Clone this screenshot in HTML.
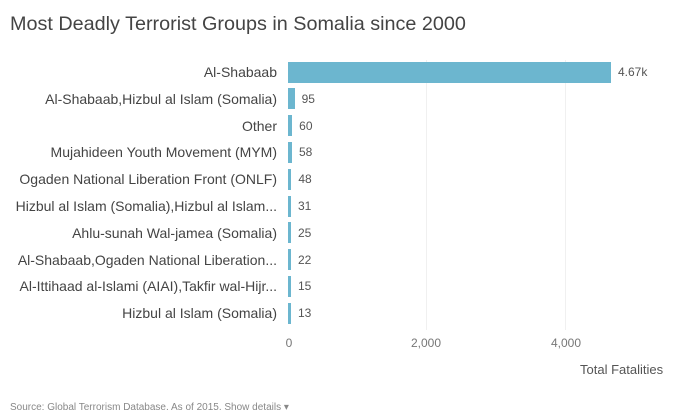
<!DOCTYPE html>
<html><head><style>
body{margin:0;background:#fff;font-family:"Liberation Sans",sans-serif;}
.c{position:relative;width:690px;height:414px;overflow:hidden;}
.t{position:absolute;left:10px;top:13px;font-size:19.8px;color:#444;}
.l{position:absolute;right:413px;font-size:14px;color:#444;text-align:right;white-space:nowrap;}
.b{position:absolute;left:288px;height:21px;background:#6cb6cf;}
.v{position:absolute;font-size:12px;color:#555;}
.g{position:absolute;top:60px;height:270px;width:1px;background:#f0f0f0;}
.x{position:absolute;top:336px;font-size:12px;color:#777;transform:translateX(-50%);}
</style></head><body><div class="c">
<div class="t">Most Deadly Terrorist Groups in Somalia since 2000</div>
<div class="g" style="left:426px"></div><div class="g" style="left:565px"></div>
<div id="rows"></div>
<div class="x" style="left:289px">0</div>
<div class="x" style="left:426px">2,000</div>
<div class="x" style="left:566px">4,000</div>
<div style="position:absolute;left:580px;top:362px;font-size:13px;color:#555">Total Fatalities</div>
<div style="position:absolute;left:10px;top:402px;font-size:10px;color:#888">Source: Global Terrorism Database. As of 2015. Show details ▾</div>
<script>
var d=[["Al-Shabaab",4670,"4.67k"],["Al-Shabaab,Hizbul al Islam (Somalia)",95,"95"],["Other",60,"60"],["Mujahideen Youth Movement (MYM)",58,"58"],["Ogaden National Liberation Front (ONLF)",48,"48"],["Hizbul al Islam (Somalia),Hizbul al Islam...",31,"31"],["Ahlu-sunah Wal-jamea (Somalia)",25,"25"],["Al-Shabaab,Ogaden National Liberation...",22,"22"],["Al-Ittihaad al-Islami (AIAI),Takfir wal-Hijr...",15,"15"],["Hizbul al Islam (Somalia)",13,"13"]];
var h="";
d.forEach(function(r,i){var cy=72+i*26.8;var w=Math.max(3,r[1]*323/4670);
h+='<div class="l" style="top:'+(cy-8)+'px">'+r[0]+'</div>';
h+='<div class="b" style="top:'+(cy-10.5)+'px;width:'+w+'px"></div>';
h+='<div class="v" style="top:'+(cy-7)+'px;left:'+(288+w+7)+'px">'+r[2]+'</div>';});
document.getElementById("rows").innerHTML=h;
</script>
</div></body></html>
